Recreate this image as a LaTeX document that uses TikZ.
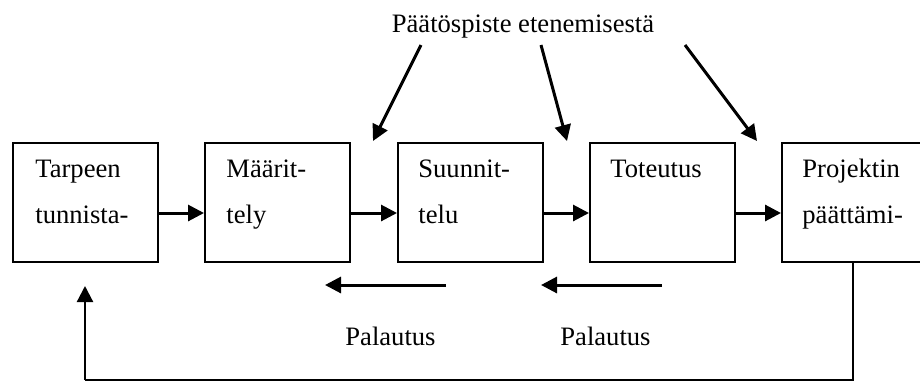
\documentclass[tikz,border=0pt]{standalone}
\usepackage{fontspec}
\setmainfont{Liberation Serif}
\usetikzlibrary{arrows.meta}
\begin{document}
\begin{tikzpicture}[x=0.5pt,y=-0.5pt,
  box/.style={draw,line width=1pt,inner sep=0pt,minimum width=72.5pt,minimum height=59.5pt,anchor=north west},
  txt/.style={inner sep=0pt,anchor=base west,font=\fontsize{13.3}{16}\selectfont},
  flow/.style={line width=1.5pt,-{Triangle[length=8pt,width=8pt]}},
  thin/.style={line width=1pt},
  back/.style={line width=1.1pt,-{Triangle[length=8pt,width=8pt]}}]
\useasboundingbox (0,0) rectangle (920,381);
% boxes
\node[box] (b1) at (12,142) {};
\node[box] (b2) at (204,142) {};
\node[box] (b3) at (397,142) {};
\node[box] (b4) at (589,142) {};
\node[box] (b5) at (781,142) {};
% box texts
\node[txt] (t1a) at (35,177) {Tarpeen};
\node[txt] (t1b) at (35,223) {tunnista-};
\node[txt] (t2a) at (226,177) {Määrit-};
\node[txt] (t2b) at (226,223) {tely};
\node[txt] (t3a) at (418,177) {Suunnit-};
\node[txt] (t3b) at (418,223) {telu};
\node[txt] (t4a) at (610,177) {Toteutus};
\node[txt] (t5a) at (802,177) {Projektin};
\node[txt] (t5b) at (802,223) {päättämi-};
% forward arrows
\draw[flow] (b1.east |- 0,213) -- (b2.west |- 0,213);
\draw[flow] (b2.east |- 0,213) -- (b3.west |- 0,213);
\draw[flow] (b3.east |- 0,213) -- (b4.west |- 0,213);
\draw[flow] (b4.east |- 0,213) -- (b5.west |- 0,213);
% top label and decision arrows
\node[txt,anchor=base] (top) at (523,32) {Päätöspiste etenemisestä};
\coordinate (d1s) at (421,45); \coordinate (d1e) at (373,141);
\coordinate (d2s) at (541,45); \coordinate (d2e) at (567,141);
\coordinate (d3s) at (685,45); \coordinate (d3e) at (757,141);
\draw[flow] (d1s) -- (d1e);
\draw[flow] (d2s) -- (d2e);
\draw[flow] (d3s) -- (d3e);
% Palautus arrows
\coordinate (p1s) at (446,285); \coordinate (p1e) at (325,285);
\coordinate (p2s) at (662,285); \coordinate (p2e) at (541,285);
\draw[flow] (p1s) -- (p1e);
\draw[flow] (p2s) -- (p2e);
\node[txt] (pl1) at (345,345) {Palautus};
\node[txt] (pl2) at (560,345) {Palautus};
% feedback loop
\coordinate (fb1) at (853,380);
\coordinate (fb2) at (85,380);
\coordinate (fb3) at (85,286);
\draw[thin] (b5.south -| 853,0) -- (fb1) -- (fb2);
\draw[back] (fb2) -- (fb3);
\end{tikzpicture}
\end{document}
